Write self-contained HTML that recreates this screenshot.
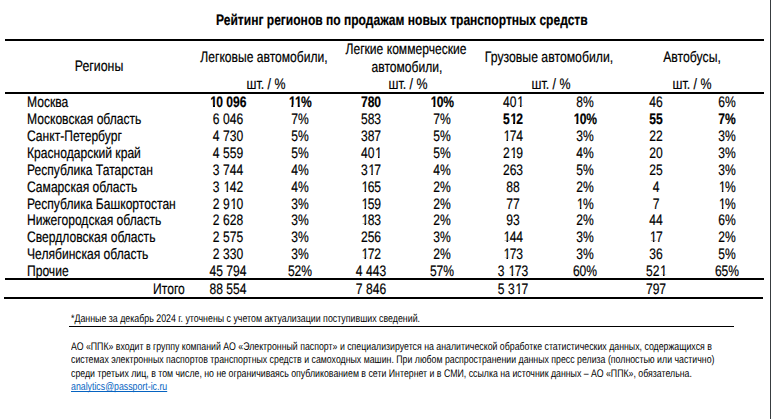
<!DOCTYPE html>
<html><head><meta charset="utf-8"><title>Рейтинг регионов</title><style>
*{margin:0;padding:0;box-sizing:border-box}
html,body{width:771px;height:419px;overflow:hidden;background:#fff}
body{position:relative;text-rendering:geometricPrecision;-webkit-text-stroke-width:0.2px;font-family:"Liberation Sans",sans-serif;color:#000}
.m{position:absolute;font-size:15.2px;line-height:17px;white-space:nowrap}
.s{position:absolute;font-size:11.1px;line-height:13px;white-space:nowrap;-webkit-text-stroke-width:0}
.b{font-weight:bold}
.L{transform-origin:0 0;transform:scaleX(var(--sx,0.796))}
.s.L{transform:scaleX(var(--sx,0.791))}
.R{transform-origin:100% 0;transform:scaleX(var(--sx,0.796))}
.C{width:0;height:17px}
.C span{position:absolute;left:0;top:0;transform:translateX(-50%) scaleX(var(--sx,0.796))}
.ln{position:absolute}
.o{font-style:normal;position:relative;left:1px;clip-path:polygon(0 0,100% 0,100% 11.0px,65% 11.0px,65% 100%,41.5% 100%,41.5% 11.0px,0 11.0px)}
.b .o{clip-path:polygon(0 0,100% 0,100% 10.6px,70% 10.6px,70% 100%,39% 100%,39% 10.6px,0 10.6px)}
</style></head>
<body>
<div class="m b L" style="left:216.00px;top:12.23px;--sx:0.793;">Рейтинг регионов по продажам новых транспортных средств</div>
<div class="ln" style="left:5px;top:39px;width:759px;height:2px;background:#000"></div>
<div class="ln" style="left:5px;top:92px;width:759px;height:2px;background:#000"></div>
<div class="ln" style="left:5px;top:278px;width:759px;height:2px;background:#000"></div>
<div class="ln" style="left:4px;top:297px;width:759px;height:2px;background:#000"></div>
<div class="ln" style="left:69px;top:326px;width:665px;height:1px;background:#000"></div>
<div class="ln" style="left:770px;top:0;width:1px;height:419px;background:#383d40"></div>
<div class="m C" style="left:99.20px;top:58.23px;--sx:0.813;"><span>Регионы</span></div>
<div class="m C" style="left:263.94px;top:49.23px;"><span>Легковые автомобили,</span></div>
<div class="m C" style="left:406.48px;top:41.23px;"><span>Легкие коммерческие</span></div>
<div class="m C" style="left:407.18px;top:58.63px;"><span>автомобили,</span></div>
<div class="m C" style="left:549.31px;top:49.23px;--sx:0.806;"><span>Грузовые автомобили,</span></div>
<div class="m C" style="left:691.56px;top:49.23px;--sx:0.806;"><span>Автобусы,</span></div>
<div class="m C" style="left:265.75px;top:76.23px;--sx:0.815;"><span>шт. / %</span></div>
<div class="m C" style="left:408.40px;top:76.23px;--sx:0.815;"><span>шт. / %</span></div>
<div class="m C" style="left:550.90px;top:76.23px;--sx:0.815;"><span>шт. / %</span></div>
<div class="m C" style="left:691.75px;top:76.23px;--sx:0.815;"><span>шт. / %</span></div>
<div class="m L" style="left:26.80px;top:94.18px;">Москва</div>
<div class="m b C" style="left:228.30px;top:94.18px;"><span><i class="o">1</i>0 096</span></div>
<div class="m b C" style="left:299.57px;top:94.18px;"><span><i class="o">1</i><i class="o">1</i>%</span></div>
<div class="m b C" style="left:370.84px;top:94.18px;"><span>780</span></div>
<div class="m b C" style="left:442.11px;top:94.18px;"><span><i class="o">1</i>0%</span></div>
<div class="m C" style="left:513.38px;top:94.18px;"><span>40<i class="o">1</i></span></div>
<div class="m C" style="left:584.65px;top:94.18px;"><span>8%</span></div>
<div class="m C" style="left:655.92px;top:94.18px;"><span>46</span></div>
<div class="m C" style="left:727.19px;top:94.18px;"><span>6%</span></div>
<div class="m L" style="left:26.80px;top:111.08px;">Московская область</div>
<div class="m C" style="left:228.30px;top:111.08px;"><span>6 046</span></div>
<div class="m C" style="left:299.57px;top:111.08px;"><span>7%</span></div>
<div class="m C" style="left:370.84px;top:111.08px;"><span>583</span></div>
<div class="m C" style="left:442.11px;top:111.08px;"><span>7%</span></div>
<div class="m b C" style="left:513.38px;top:111.08px;"><span>5<i class="o">1</i>2</span></div>
<div class="m b C" style="left:584.65px;top:111.08px;"><span><i class="o">1</i>0%</span></div>
<div class="m b C" style="left:655.92px;top:111.08px;"><span>55</span></div>
<div class="m b C" style="left:727.19px;top:111.08px;"><span>7%</span></div>
<div class="m L" style="left:26.80px;top:127.98px;">Санкт-Петербург</div>
<div class="m C" style="left:228.30px;top:127.98px;"><span>4 730</span></div>
<div class="m C" style="left:299.57px;top:127.98px;"><span>5%</span></div>
<div class="m C" style="left:370.84px;top:127.98px;"><span>387</span></div>
<div class="m C" style="left:442.11px;top:127.98px;"><span>5%</span></div>
<div class="m C" style="left:513.38px;top:127.98px;"><span><i class="o">1</i>74</span></div>
<div class="m C" style="left:584.65px;top:127.98px;"><span>3%</span></div>
<div class="m C" style="left:655.92px;top:127.98px;"><span>22</span></div>
<div class="m C" style="left:727.19px;top:127.98px;"><span>3%</span></div>
<div class="m L" style="left:26.80px;top:144.88px;">Краснодарский край</div>
<div class="m C" style="left:228.30px;top:144.88px;"><span>4 559</span></div>
<div class="m C" style="left:299.57px;top:144.88px;"><span>5%</span></div>
<div class="m C" style="left:370.84px;top:144.88px;"><span>40<i class="o">1</i></span></div>
<div class="m C" style="left:442.11px;top:144.88px;"><span>5%</span></div>
<div class="m C" style="left:513.38px;top:144.88px;"><span>2<i class="o">1</i>9</span></div>
<div class="m C" style="left:584.65px;top:144.88px;"><span>4%</span></div>
<div class="m C" style="left:655.92px;top:144.88px;"><span>20</span></div>
<div class="m C" style="left:727.19px;top:144.88px;"><span>3%</span></div>
<div class="m L" style="left:26.80px;top:161.78px;">Республика Татарстан</div>
<div class="m C" style="left:228.30px;top:161.78px;"><span>3 744</span></div>
<div class="m C" style="left:299.57px;top:161.78px;"><span>4%</span></div>
<div class="m C" style="left:370.84px;top:161.78px;"><span>3<i class="o">1</i>7</span></div>
<div class="m C" style="left:442.11px;top:161.78px;"><span>4%</span></div>
<div class="m C" style="left:513.38px;top:161.78px;"><span>263</span></div>
<div class="m C" style="left:584.65px;top:161.78px;"><span>5%</span></div>
<div class="m C" style="left:655.92px;top:161.78px;"><span>25</span></div>
<div class="m C" style="left:727.19px;top:161.78px;"><span>3%</span></div>
<div class="m L" style="left:26.80px;top:178.68px;">Самарская область</div>
<div class="m C" style="left:228.30px;top:178.68px;"><span>3 <i class="o">1</i>42</span></div>
<div class="m C" style="left:299.57px;top:178.68px;"><span>4%</span></div>
<div class="m C" style="left:370.84px;top:178.68px;"><span><i class="o">1</i>65</span></div>
<div class="m C" style="left:442.11px;top:178.68px;"><span>2%</span></div>
<div class="m C" style="left:513.38px;top:178.68px;"><span>88</span></div>
<div class="m C" style="left:584.65px;top:178.68px;"><span>2%</span></div>
<div class="m C" style="left:655.92px;top:178.68px;"><span>4</span></div>
<div class="m C" style="left:727.19px;top:178.68px;"><span><i class="o">1</i>%</span></div>
<div class="m L" style="left:26.80px;top:195.58px;">Республика Башкортостан</div>
<div class="m C" style="left:228.30px;top:195.58px;"><span>2 9<i class="o">1</i>0</span></div>
<div class="m C" style="left:299.57px;top:195.58px;"><span>3%</span></div>
<div class="m C" style="left:370.84px;top:195.58px;"><span><i class="o">1</i>59</span></div>
<div class="m C" style="left:442.11px;top:195.58px;"><span>2%</span></div>
<div class="m C" style="left:513.38px;top:195.58px;"><span>77</span></div>
<div class="m C" style="left:584.65px;top:195.58px;"><span><i class="o">1</i>%</span></div>
<div class="m C" style="left:655.92px;top:195.58px;"><span>7</span></div>
<div class="m C" style="left:727.19px;top:195.58px;"><span><i class="o">1</i>%</span></div>
<div class="m L" style="left:26.80px;top:212.48px;">Нижегородская область</div>
<div class="m C" style="left:228.30px;top:212.48px;"><span>2 628</span></div>
<div class="m C" style="left:299.57px;top:212.48px;"><span>3%</span></div>
<div class="m C" style="left:370.84px;top:212.48px;"><span><i class="o">1</i>83</span></div>
<div class="m C" style="left:442.11px;top:212.48px;"><span>2%</span></div>
<div class="m C" style="left:513.38px;top:212.48px;"><span>93</span></div>
<div class="m C" style="left:584.65px;top:212.48px;"><span>2%</span></div>
<div class="m C" style="left:655.92px;top:212.48px;"><span>44</span></div>
<div class="m C" style="left:727.19px;top:212.48px;"><span>6%</span></div>
<div class="m L" style="left:26.80px;top:229.38px;">Свердловская область</div>
<div class="m C" style="left:228.30px;top:229.38px;"><span>2 575</span></div>
<div class="m C" style="left:299.57px;top:229.38px;"><span>3%</span></div>
<div class="m C" style="left:370.84px;top:229.38px;"><span>256</span></div>
<div class="m C" style="left:442.11px;top:229.38px;"><span>3%</span></div>
<div class="m C" style="left:513.38px;top:229.38px;"><span><i class="o">1</i>44</span></div>
<div class="m C" style="left:584.65px;top:229.38px;"><span>3%</span></div>
<div class="m C" style="left:655.92px;top:229.38px;"><span><i class="o">1</i>7</span></div>
<div class="m C" style="left:727.19px;top:229.38px;"><span>2%</span></div>
<div class="m L" style="left:26.80px;top:246.28px;">Челябинская область</div>
<div class="m C" style="left:228.30px;top:246.28px;"><span>2 330</span></div>
<div class="m C" style="left:299.57px;top:246.28px;"><span>3%</span></div>
<div class="m C" style="left:370.84px;top:246.28px;"><span><i class="o">1</i>72</span></div>
<div class="m C" style="left:442.11px;top:246.28px;"><span>2%</span></div>
<div class="m C" style="left:513.38px;top:246.28px;"><span><i class="o">1</i>73</span></div>
<div class="m C" style="left:584.65px;top:246.28px;"><span>3%</span></div>
<div class="m C" style="left:655.92px;top:246.28px;"><span>36</span></div>
<div class="m C" style="left:727.19px;top:246.28px;"><span>5%</span></div>
<div class="m L" style="left:26.80px;top:263.18px;">Прочие</div>
<div class="m C" style="left:228.30px;top:263.18px;"><span>45 794</span></div>
<div class="m C" style="left:299.57px;top:263.18px;"><span>52%</span></div>
<div class="m C" style="left:370.84px;top:263.18px;"><span>4 443</span></div>
<div class="m C" style="left:442.11px;top:263.18px;"><span>57%</span></div>
<div class="m C" style="left:513.38px;top:263.18px;"><span>3 <i class="o">1</i>73</span></div>
<div class="m C" style="left:584.65px;top:263.18px;"><span>60%</span></div>
<div class="m C" style="left:655.92px;top:263.18px;"><span>52<i class="o">1</i></span></div>
<div class="m C" style="left:727.19px;top:263.18px;"><span>65%</span></div>
<div class="m R" style="right:586.00px;top:280.83px;">Итого</div>
<div class="m C" style="left:228.30px;top:280.83px;"><span>88 554</span></div>
<div class="m C" style="left:370.84px;top:280.83px;"><span>7 846</span></div>
<div class="m C" style="left:513.38px;top:280.83px;"><span>5 3<i class="o">1</i>7</span></div>
<div class="m C" style="left:655.92px;top:280.83px;"><span>797</span></div>
<div class="s L" style="left:70.80px;top:313.00px;--sx:0.796;">*Данные за декабрь 2024 г. уточнены с учетом актуализации поступивших сведений.</div>
<div class="s L" style="left:70.80px;top:341.00px;">АО «ППК» входит в группу компаний АО «Электронный паспорт» и специализируется на аналитической обработке статистических данных, содержащихся в</div>
<div class="s L" style="left:70.80px;top:354.00px;">системах электронных паспортов транспортных средств и самоходных машин. При любом распространении данных пресс релиза (полностью или частично)</div>
<div class="s L" style="left:70.80px;top:368.00px;">среди третьих лиц, в том числе, но не ограничиваясь опубликованием в сети Интернет и в СМИ, ссылка на источник данных – АО «ППК», обязательна.</div>
<div class="s L" style="left:70.80px;top:381.00px;color:#0563c1;text-decoration:underline;text-decoration-skip-ink:none;">analytics@passport-ic.ru</div>
</body></html>
